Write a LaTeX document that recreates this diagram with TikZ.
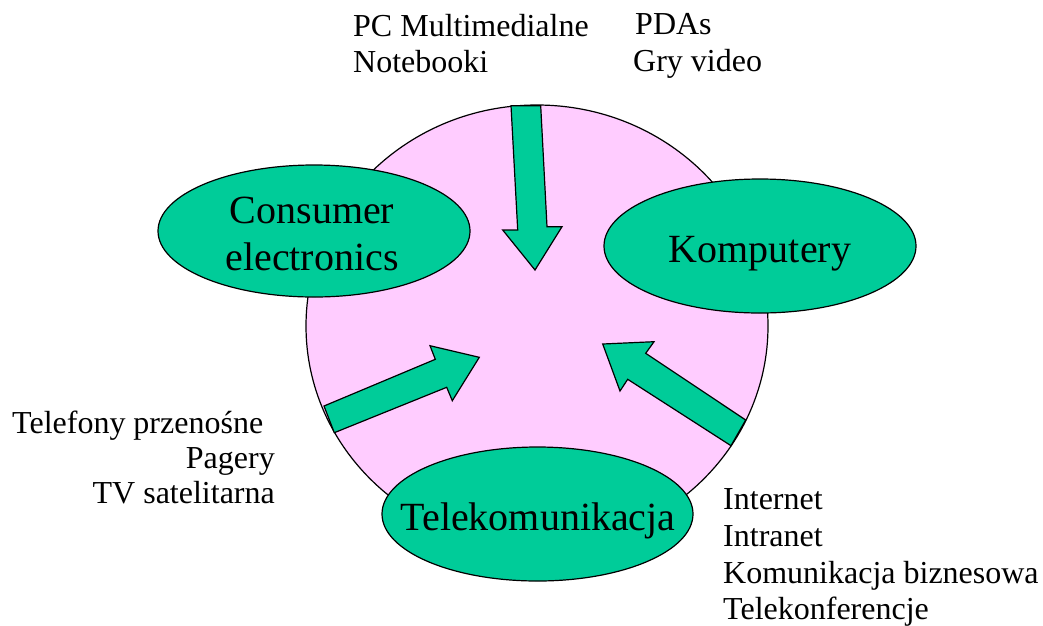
\documentclass[tikz,border=0pt]{standalone}
\usepackage{fontspec}
\setmainfont{Liberation Serif}
\usetikzlibrary{shapes.geometric}
\definecolor{pinkfill}{HTML}{FFCCFF}
\definecolor{greenfill}{HTML}{00CC99}
\begin{document}
\begin{tikzpicture}[x=1pt,y=-1pt,
  elli/.style={ellipse, draw=black, line width=1.2pt, fill=greenfill, inner sep=0pt},
  bigarrow/.style={draw=black, line width=1.2pt, fill=greenfill, line join=miter},
  bigtxt/.style={font=\fontsize{40}{47}\selectfont, inner sep=0pt, anchor=base},
  smalltxt/.style={font=\fontsize{32}{36}\selectfont, inner sep=0pt}]
\useasboundingbox (0,0) rectangle (1043,625);
% big circle
\node[ellipse, draw=black, line width=1.2pt, fill=pinkfill, minimum width=462pt, minimum height=442pt, inner sep=0pt] (circ) at (537,326) {};
% top arrow
\coordinate (a1) at (511,105.7);
\coordinate (a2) at (540.7,105.7);
\coordinate (a3) at (547,226.7);
\coordinate (a4) at (562,226.7);
\coordinate (a5) at (535,270);
\coordinate (a6) at (502.7,230);
\coordinate (a7) at (517.7,230);
\draw[bigarrow] (a1) -- (a2) -- (a3) -- (a4) -- (a5) -- (a6) -- (a7) -- cycle;
% left arrow
\coordinate (b1) at (324,406);
\coordinate (b2) at (435.3,359.3);
\coordinate (b3) at (430,345.7);
\coordinate (b4) at (479.3,357.3);
\coordinate (b5) at (452.3,400.7);
\coordinate (b6) at (446.7,387.3);
\coordinate (b7) at (334.3,432.7);
\draw[bigarrow] (b1) -- (b2) -- (b3) -- (b4) -- (b5) -- (b6) -- (b7) -- cycle;
% right arrow
\coordinate (c1) at (745.7,420);
\coordinate (c2) at (645.7,353.3);
\coordinate (c3) at (654,341.7);
\coordinate (c4) at (602.7,344);
\coordinate (c5) at (620,391);
\coordinate (c6) at (627.7,379.3);
\coordinate (c7) at (731,445.7);
\draw[bigarrow] (c1) -- (c2) -- (c3) -- (c4) -- (c5) -- (c6) -- (c7) -- cycle;
% ellipses
\node[elli, minimum width=312pt, minimum height=132pt] (ce) at (314,231) {};
\node[elli, minimum width=312pt, minimum height=134pt] (ko) at (760,246) {};
\node[elli, minimum width=311pt, minimum height=134pt] (te) at (537.5,514) {};
\node[bigtxt] (ce1) at (312,223) {Consumer};
\node[bigtxt] (ce2) at (312,270) {electronics};
\node[bigtxt] (ko1) at (760,262) {Komputery};
\node[bigtxt] (te1) at (538,530) {Telekomunikacja};
% top labels
\node[smalltxt, anchor=base west] (p1) at (353,36) {PC Multimedialne};
\node[smalltxt, anchor=base west] (p2) at (353,72) {Notebooki};
\node[smalltxt, anchor=base west] (p3) at (635,34) {PDAs};
\node[smalltxt, anchor=base west] (p4) at (633,71) {Gry video};
% left labels
\node[smalltxt, anchor=base west] (l1) at (12,433) {Telefony przenośne};
\node[smalltxt, anchor=base east] (l2) at (275,468) {Pagery};
\node[smalltxt, anchor=base east] (l3) at (275,503) {TV satelitarna};
% right labels
\node[smalltxt, anchor=base west] (r1) at (723,509) {Internet};
\node[smalltxt, anchor=base west] (r2) at (723,546) {Intranet};
\node[smalltxt, anchor=base west] (r3) at (723,583) {Komunikacja biznesowa};
\node[smalltxt, anchor=base west] (r4) at (723,619) {Telekonferencje};
\end{tikzpicture}
\end{document}
